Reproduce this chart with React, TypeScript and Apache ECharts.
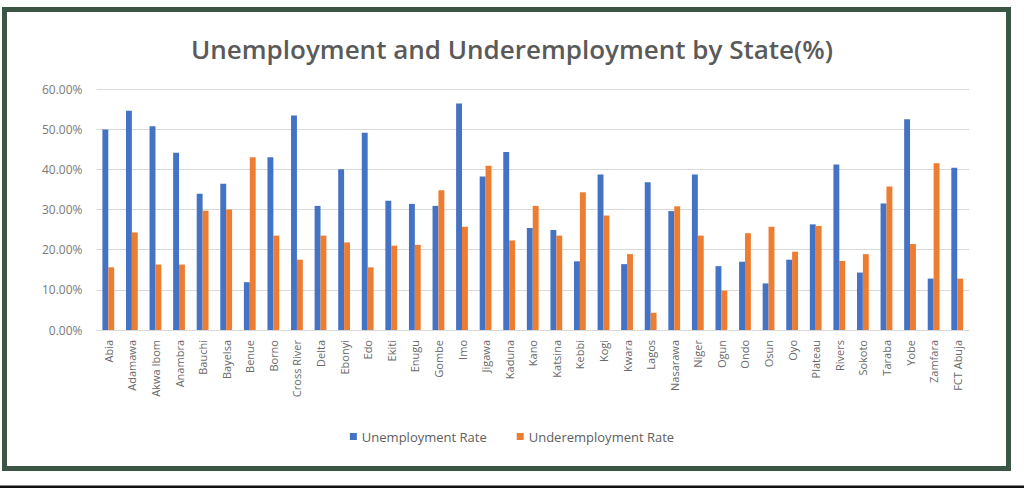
import React, { useEffect, useRef } from "react";
import * as echarts from "echarts";

const states = [
  "Abia", "Adamawa", "Akwa Ibom", "Anambra", "Bauchi", "Bayelsa", "Benue", "Borno",
  "Cross River", "Delta", "Ebonyi", "Edo", "Ekiti", "Enugu", "Gombe", "Imo", "Jigawa",
  "Kaduna", "Kano", "Katsina", "Kebbi", "Kogi", "Kwara", "Lagos", "Nasarawa", "Niger",
  "Ogun", "Ondo", "Osun", "Oyo", "Plateau", "Rivers", "Sokoto", "Taraba", "Yobe",
  "Zamfara", "FCT Abuja",
];

const unemploymentRate = [
  49.9, 54.6, 50.7, 44.1, 33.9, 36.4, 11.9, 43.0, 53.4, 30.9, 40.0, 49.1, 32.2, 31.4,
  30.9, 56.4, 38.2, 44.3, 25.4, 24.9, 17.1, 38.7, 16.4, 36.8, 29.6, 38.7, 15.9, 17.0,
  11.6, 17.5, 26.3, 41.2, 14.3, 31.5, 52.5, 12.8, 40.4,
];

const underemploymentRate = [
  15.6, 24.3, 16.3, 16.3, 29.7, 30.0, 43.0, 23.5, 17.5, 23.5, 21.8, 15.6, 21.0, 21.2,
  34.8, 25.7, 40.9, 22.3, 30.9, 23.5, 34.3, 28.5, 18.9, 4.3, 30.8, 23.5, 9.8, 24.1,
  25.7, 19.5, 25.9, 17.2, 18.9, 35.7, 21.4, 41.5, 12.8,
];

const seriesNames = ["Unemployment Rate", "Underemployment Rate"];
const chartTitle = "Unemployment and Underemployment by State(%)";

export default function App() {
  const ref = useRef<HTMLDivElement>(null);

  useEffect(() => {
    if (!ref.current) return;
    const chart = echarts.init(ref.current, null, { renderer: "svg" });
    const frame = "#3b5545";
    chart.setOption({
      animation: false,
      backgroundColor: "#ffffff",
      title: {
        text: chartTitle,
        left: "center",
        top: 31,
        textStyle: {
          fontFamily: "Open Sans",
          fontSize: 26,
          fontWeight: 600,
          color: "#5a5a5a",
        },
      },
      legend: {
        data: seriesNames,
        top: 425,
        left: "center",
        itemWidth: 7,
        itemHeight: 7,
        itemGap: 30,
        icon: "rect",
        textStyle: { fontFamily: "Open Sans", fontSize: 13, color: "#606060" },
      },
      grid: { left: 96.5, right: 55, top: 89, bottom: 158, containLabel: false },
      xAxis: {
        type: "category",
        data: states,
        axisTick: { show: false },
        axisLine: { lineStyle: { color: "#d9d9d9" } },
        axisLabel: {
          interval: 0,
          rotate: 90,
          margin: 10,
          fontFamily: "Open Sans",
          fontSize: 11,
          color: "#6a6a6a",
        },
      },
      yAxis: {
        type: "value",
        min: 0,
        max: 60,
        interval: 10,
        axisLabel: {
          formatter: (v: number) => `${v.toFixed(2)}%`,
          fontFamily: "Open Sans",
          fontSize: 12,
          color: "#7a7a7a",
          margin: 14,
        },
        splitLine: { lineStyle: { color: "#d9d9d9" } },
        axisLine: { show: false },
        axisTick: { show: false },
      },
      series: [
        {
          name: seriesNames[0],
          type: "bar",
          data: unemploymentRate,
          barWidth: "25%",
          barGap: "0%",
          itemStyle: { color: "#4472c4" },
        },
        {
          name: seriesNames[1],
          type: "bar",
          data: underemploymentRate,
          barWidth: "25%",
          barGap: "0%",
          itemStyle: { color: "#ed7d31" },
        },
      ],
      graphic: [
        {
          type: "rect",
          shape: { x: 4.5, y: 9.5, width: 1004, height: 459 },
          style: { fill: "none", stroke: frame, lineWidth: 5 },
          silent: true,
        },
        {
          type: "line",
          shape: { x1: 0, y1: 487, x2: 1024, y2: 487 },
          style: { stroke: "#111111", lineWidth: 3 },
          silent: true,
        },
      ],
    });
    return () => chart.dispose();
  }, []);

  return (
    <div
      ref={ref}
      style={{ position: "absolute", left: 0, top: 0, width: 1024, height: 488 }}
    />
  );
}
